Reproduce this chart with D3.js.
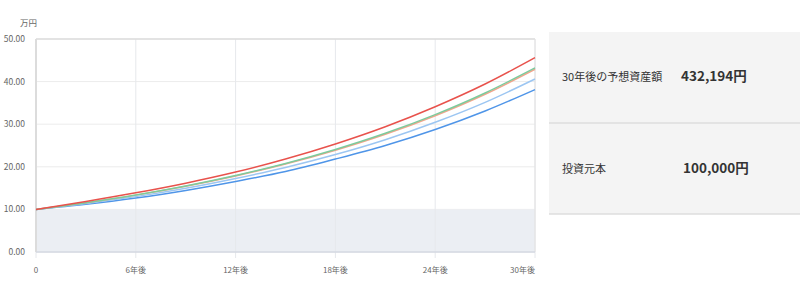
<!DOCTYPE html>
<html>
<head>
<meta charset="utf-8">
<script src="https://cdn.jsdelivr.net/npm/d3@7"></script>
<style>
body { margin: 0; background: #fff; font-family: "Noto Sans CJK JP", "Noto Sans", sans-serif; }
svg { display: block; }
</style>
</head>
<body>
<svg id="chart" width="800" height="294"></svg>
<script>
// years on the x axis
var years = [0, 3, 6, 9, 12, 15, 18, 21, 24, 27, 30];
var xTicks = [0, 6, 12, 18, 24, 30];
var yTicks = [0, 10, 20, 30, 40, 50];

// asset values (万円)
var redVals    = [10, 11.88, 13.90, 16.16, 18.76, 21.84, 25.37, 29.41, 34.10, 39.43, 45.62];
var orangeVals = [10, 11.55, 13.35, 15.44, 17.86, 20.66, 23.90, 27.65, 32.00, 37.04, 42.90];
var greenVals  = [10, 11.58, 13.40, 15.51, 17.96, 20.79, 24.07, 27.86, 32.25, 37.33, 43.22];
var lbVals     = [10, 11.38, 13.00, 14.96, 17.26, 19.84, 22.87, 26.36, 30.45, 35.13, 40.62];
var blueVals   = [10, 11.18, 12.65, 14.46, 16.56, 18.89, 21.82, 25.00, 28.75, 33.10, 38.12];
var principal  = [10, 10, 10, 10, 10, 10, 10, 10, 10, 10, 10];

var seriesColors = ["#4f95e8", "#9cc6f2", "#f2a58c", "#7ccb9c", "#e8524c"];
var seriesVals = [blueVals, lbVals, orangeVals, greenVals, redVals];

var summaryLabels = ["30年後の予想資産額", "投資元本"];
var summaryValues = ["432,194円", "100,000円"];

var svg = d3.select("#chart");

var x = d3.scaleLinear().domain([0, 30]).range([36, 535]);
var y = d3.scaleLinear().domain([0, 50]).range([252, 39]);

// horizontal grid
svg.append("g").selectAll("line").data(yTicks).enter().append("line")
    .attr("x1", x(0)).attr("x2", x(30))
    .attr("y1", function(d) { return y(d); })
    .attr("y2", function(d) { return y(d); })
    .attr("stroke", "#ececec").attr("stroke-width", 1);

// principal area
var area = d3.area()
    .x(function(d, i) { return x(years[i]); })
    .y0(y(0))
    .y1(function(d) { return y(d); });
svg.append("path").datum(principal)
    .attr("d", area)
    .attr("fill", "#ebeef3");

// vertical grid with tick marks below the plot
svg.append("g").selectAll("line").data(xTicks).enter().append("line")
    .attr("x1", function(d) { return x(d); })
    .attr("x2", function(d) { return x(d); })
    .attr("y1", y(50)).attr("y2", 258)
    .attr("stroke", "#e6e8ec").attr("stroke-width", 1);

// frame
svg.append("line").attr("x1", x(0)).attr("x2", x(30)).attr("y1", y(50)).attr("y2", y(50))
    .attr("stroke", "#dcdcdc").attr("stroke-width", 1.5);
svg.append("line").attr("x1", x(0)).attr("x2", x(0)).attr("y1", y(50)).attr("y2", y(0))
    .attr("stroke", "#dcdcdc").attr("stroke-width", 2);
svg.append("line").attr("x1", x(30)).attr("x2", x(30)).attr("y1", y(50)).attr("y2", y(0))
    .attr("stroke", "#e2e2e2").attr("stroke-width", 1);
svg.append("line").attr("x1", x(0)).attr("x2", x(30)).attr("y1", y(0)).attr("y2", y(0))
    .attr("stroke", "#d4d9e2").attr("stroke-width", 1.5);

// lines
var line = d3.line()
    .x(function(d, i) { return x(years[i]); })
    .y(function(d) { return y(d); })
    .curve(d3.curveMonotoneX);
svg.append("g").selectAll("path").data(seriesVals).enter().append("path")
    .attr("d", line)
    .attr("fill", "none")
    .attr("stroke", function(d, i) { return seriesColors[i]; })
    .attr("stroke-width", 1.5);

// y labels
svg.append("g").selectAll("text").data(yTicks).enter().append("text")
    .attr("x", 25).attr("y", function(d) { return y(d) + 3; })
    .attr("text-anchor", "end")
    .attr("font-size", 8.5).attr("fill", "#666")
    .text(function(d) { return d3.format(".2f")(d); });

svg.append("text").attr("x", 20).attr("y", 26)
    .attr("font-size", 8.5).attr("fill", "#666").text("万円");

// x labels
svg.append("g").selectAll("text").data(xTicks).enter().append("text")
    .attr("x", function(d) { return x(d); }).attr("y", 273)
    .attr("text-anchor", function(d) { return d == 30 ? "end" : "middle"; })
    .attr("font-size", 8).attr("fill", "#666")
    .text(function(d) { return d == 0 ? "0" : d + "年後"; });

// summary panel
var panel = svg.append("g");
panel.append("rect").attr("x", 549).attr("y", 32).attr("width", 251).attr("height", 182)
    .attr("fill", "#f4f4f4");
panel.append("line").attr("x1", 549).attr("x2", 800).attr("y1", 123).attr("y2", 123)
    .attr("stroke", "#dedede").attr("stroke-width", 1.5);
panel.append("line").attr("x1", 549).attr("x2", 800).attr("y1", 214).attr("y2", 214)
    .attr("stroke", "#dedede").attr("stroke-width", 1.5);

panel.selectAll("text.lab").data(summaryLabels).enter().append("text")
    .attr("class", "lab")
    .attr("x", 562).attr("y", function(d, i) { return 81 + i * 92; })
    .attr("font-size", 11).attr("fill", "#333")
    .text(function(d) { return d; });
panel.selectAll("text.val").data(summaryValues).enter().append("text")
    .attr("class", "val")
    .attr("x", function(d, i) { return i == 0 ? 681 : 683; })
    .attr("y", function(d, i) { return 81 + i * 92; })
    .attr("font-size", 13.5).attr("font-weight", "bold").attr("fill", "#333")
    .text(function(d) { return d; });
</script>
</body>
</html>
